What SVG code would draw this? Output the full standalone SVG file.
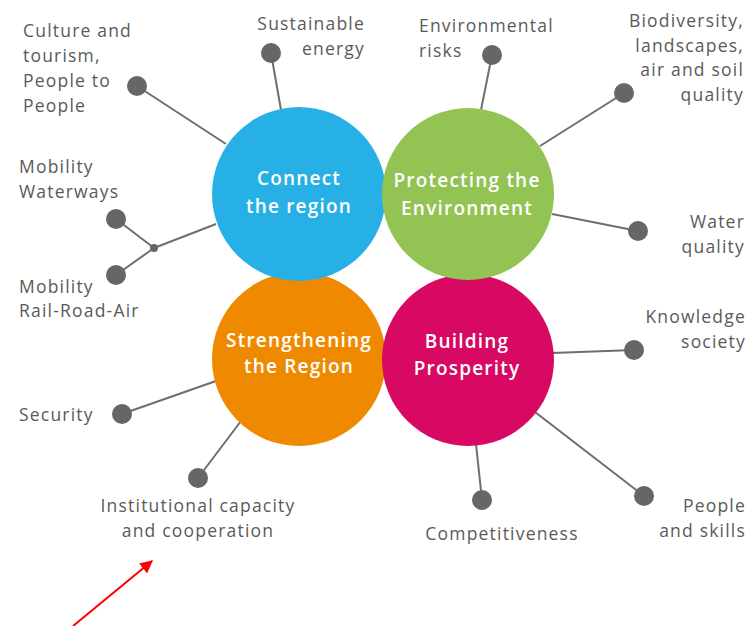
<svg xmlns="http://www.w3.org/2000/svg" width="756" height="626" viewBox="0 0 756 626">
<defs>
<style>
.lbl{font-family:"Open Sans","Noto Sans",sans-serif;font-size:17.5px;letter-spacing:1.2px;fill:#5a5a5a}
.ttl{font-family:"Open Sans","Noto Sans",sans-serif;font-size:19px;letter-spacing:1.2px;font-weight:600;fill:#ffffff;text-anchor:middle}
.ln{stroke:#6e6e6e;stroke-width:2;fill:none}
.dot{fill:#666666}
.r{text-anchor:end}
.m{text-anchor:middle}
</style>
<marker id="ah" viewBox="0 0 10 10" refX="9" refY="5" markerWidth="6.5" markerHeight="6.5" orient="auto">
<path d="M0,0 L10,5 L0,10 z" fill="#ff0000"/>
</marker>
</defs>
<rect width="756" height="626" fill="#ffffff"/>
<g id="connectors">
<line class="ln" x1="137" y1="86" x2="226" y2="144"/>
<line class="ln" x1="271" y1="53" x2="281" y2="110"/>
<line class="ln" x1="116" y1="219" x2="154" y2="248"/>
<line class="ln" x1="116" y1="275" x2="154" y2="248"/>
<line class="ln" x1="154" y1="248" x2="216" y2="224"/>
<line class="ln" x1="492" y1="55" x2="481" y2="110"/>
<line class="ln" x1="624" y1="93" x2="540" y2="146"/>
<line class="ln" x1="638" y1="231" x2="552" y2="214"/>
<line class="ln" x1="634" y1="350" x2="552" y2="353"/>
<line class="ln" x1="482" y1="500" x2="476" y2="444"/>
<line class="ln" x1="644" y1="496" x2="535" y2="412"/>
<line class="ln" x1="122" y1="414" x2="216" y2="381"/>
<line class="ln" x1="198" y1="478" x2="241" y2="421"/>
<line x1="73" y1="626" x2="152" y2="561" stroke="#ff0000" stroke-width="2" marker-end="url(#ah)"/>
</g>
<g id="dots">
<circle class="dot" cx="137" cy="86" r="10"/>
<circle class="dot" cx="271" cy="53" r="10"/>
<circle class="dot" cx="116" cy="219" r="10"/>
<circle class="dot" cx="154" cy="248" r="4"/>
<circle class="dot" cx="116" cy="275" r="10"/>
<circle class="dot" cx="492" cy="55" r="10"/>
<circle class="dot" cx="624" cy="93" r="10"/>
<circle class="dot" cx="638" cy="231" r="10"/>
<circle class="dot" cx="634" cy="350" r="10"/>
<circle class="dot" cx="482" cy="500" r="10"/>
<circle class="dot" cx="644" cy="496" r="10"/>
<circle class="dot" cx="122" cy="414" r="10"/>
<circle class="dot" cx="198" cy="478" r="10"/>
</g>
<g id="strengthening">
<circle cx="299" cy="359" r="87" fill="#ef8a00"/>
<text class="ttl" x="299" y="347">Strengthening</text>
<text class="ttl" x="299" y="373">the Region</text>
</g>
<g id="prosperity">
<circle cx="468" cy="360" r="86" fill="#d80963"/>
<text class="ttl" x="467" y="348">Building</text>
<text class="ttl" x="467" y="375">Prosperity</text>
</g>
<g id="connect">
<circle cx="299" cy="194" r="87" fill="#27b0e6"/>
<text class="ttl" x="299" y="185">Connect</text>
<text class="ttl" x="299" y="213">the region</text>
</g>
<g id="environment">
<circle cx="468" cy="194" r="86" fill="#92c353"/>
<text class="ttl" x="467" y="187">Protecting the</text>
<text class="ttl" x="467" y="215">Environment</text>
</g>
<g id="labels">
<text class="lbl" x="23" y="37">Culture and</text>
<text class="lbl" x="23" y="62">tourism,</text>
<text class="lbl" x="23" y="87">People to</text>
<text class="lbl" x="23" y="112">People</text>
<text class="lbl r" x="365" y="30">Sustainable</text>
<text class="lbl r" x="365" y="55">energy</text>
<text class="lbl" x="19" y="173">Mobility</text>
<text class="lbl" x="19" y="198">Waterways</text>
<text class="lbl" x="19" y="293">Mobility</text>
<text class="lbl" x="19" y="317">Rail-Road-Air</text>
<text class="lbl" x="19" y="421">Security</text>
<text class="lbl m" x="198" y="512">Institutional capacity</text>
<text class="lbl m" x="198" y="537">and cooperation</text>
<text class="lbl" x="419" y="32">Environmental</text>
<text class="lbl" x="419" y="57">risks</text>
<text class="lbl r" x="744" y="27">Biodiversity,</text>
<text class="lbl r" x="744" y="52">landscapes,</text>
<text class="lbl r" x="744" y="76">air and soil</text>
<text class="lbl r" x="744" y="101">quality</text>
<text class="lbl r" x="745" y="228">Water</text>
<text class="lbl r" x="745" y="253">quality</text>
<text class="lbl r" x="746" y="323">Knowledge</text>
<text class="lbl r" x="746" y="348">society</text>
<text class="lbl m" x="502" y="540">Competitiveness</text>
<text class="lbl r" x="746" y="512">People</text>
<text class="lbl r" x="746" y="537">and skills</text>
</g>
</svg>
